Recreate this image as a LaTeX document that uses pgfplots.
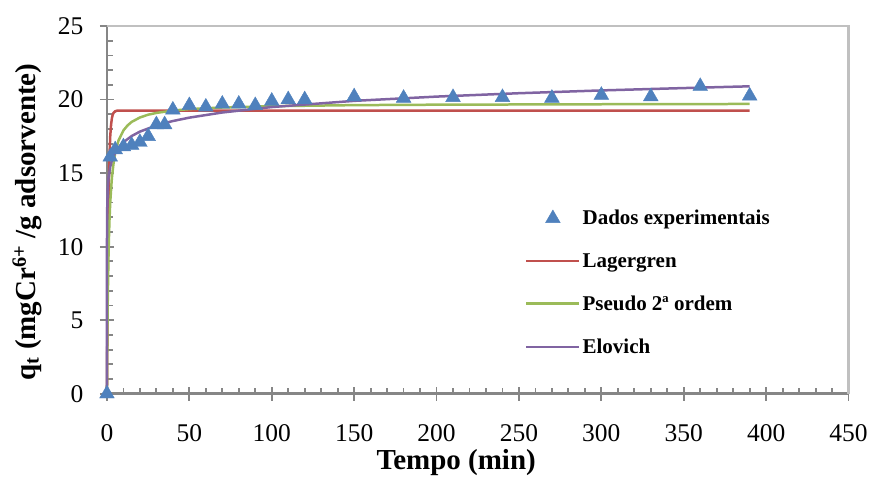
\documentclass[border=0pt]{standalone}
\usepackage{pgfplots}
\pgfplotsset{compat=1.18}
\usepackage{fontspec}
\setmainfont{Liberation Serif}
\definecolor{cblue}{HTML}{4F81BD}
\definecolor{cred}{HTML}{C0504D}
\definecolor{cgreen}{HTML}{9BBB59}
\definecolor{cpurple}{HTML}{8064A2}
\definecolor{axgray}{HTML}{868686}
\definecolor{boxgray}{HTML}{C0C0C0}
\begin{document}
\begin{tikzpicture}
\begin{axis}[
  at={(0pt,0pt)}, anchor=south west,
  scale only axis, width=742pt, height=368pt,
  xmin=0, xmax=450, ymin=0, ymax=25,
  set layers,
  clip=false,
  axis x line*=bottom, axis y line*=left,
  axis line style={draw=axgray, line width=2.6pt},
  xtick={0,50,...,450}, ytick={0,5,...,25},
  minor x tick num=4, minor y tick num=4,
  tick align=inside,
  major tick length=0pt, minor tick length=6pt,
  tick style={draw=axgray, line width=1.8pt},
  extra x ticks={0,50,...,450}, extra x tick labels={},
  extra y ticks={0,5,...,25}, extra y tick labels={},
  extra x tick style={major tick length=14pt, tick align=center},
  extra y tick style={major tick length=14pt, tick align=center},
  /pgf/number format/assume math mode=true,
  tick label style={font=\fontsize{25.5}{30}\selectfont},
  xticklabel style={yshift=-27pt},
  yticklabel style={xshift=-20pt},
  xlabel={\textbf{Tempo (min)}},
  ylabel={\textbf{q\textsubscript{t} (mgCr\textsuperscript{6+} /g adsorvente)}},
  label style={font=\fontsize{29}{33}\selectfont},
  xlabel style={at={(rel axis cs:0.471,0)}, anchor=north, yshift=-52pt},
  ylabel style={at={(rel axis cs:-0.0836,0.467)}, anchor=south},
  legend style={draw=none, fill=none, at={(rel axis cs:0.5596,0.51)}, anchor=north west,
    font=\bfseries\fontsize{21}{25}\selectfont, row sep=23pt,
    /tikz/every even column/.append style={column sep=0pt}},
  legend cell align=left,
  legend image code/.code={\draw[mark repeat=2,mark phase=2,#1] plot coordinates {(0pt,0pt) (26.5pt,0pt) (53pt,0pt)};},
]
\draw[boxgray, line width=2.2pt] (rel axis cs:0,1) -- (rel axis cs:1,1) -- (rel axis cs:1,0);
\addplot[only marks, mark=triangle*, mark size=8.5pt, color=cblue, mark options={fill=cblue, draw=cblue}] coordinates {
(0,0) (2,16.1) (5,16.6) (10,16.8) (15,16.9) (20,17.1) (25,17.5) (30,18.3) (35,18.3) (40,19.3)
(50,19.6) (60,19.5) (70,19.7) (80,19.7) (90,19.6) (100,19.9) (110,20.0) (120,20.0)
(150,20.2) (180,20.1) (210,20.15) (240,20.15) (270,20.1) (300,20.3) (330,20.2) (360,20.9) (390,20.25)
};
\addlegendentry{Dados experimentais}
\addplot[cred, line width=2.5pt] coordinates {
(0,0) (0.5,8.68) (1,13.45) (1.5,16.08) (2,17.5) (2.5,18.28) (3,18.73) (3.5,18.97) (4,19.09) (5,19.2) (6,19.24) (7,19.25) (390,19.25)
};
\addlegendentry{Lagergren}
\addplot[cgreen, line width=2.5pt] coordinates {
(0,0) (0.25,3.85) (0.5,6.44) (1,9.71) (1.5,11.69) (2,13.02) (3,14.69) (4,15.66) (5,16.37) (7,17.21) (10,17.9) (12.5,18.24) (15,18.48) (20,18.78) (25,18.97) (30,19.09) (40,19.25) (50,19.35) (70,19.46) (100,19.55) (150,19.62) (200,19.65) (300,19.68) (390,19.70)
};
\addlegendentry{Pseudo 2ª ordem}
\addplot[cpurple, line width=2.5pt] coordinates {
(0,0) (0.001,7.57) (0.01,9.95) (0.1,12.34) (0.5,14.0) (1,14.72) (2,15.43) (3,15.85) (5,16.39) (7,16.73) (10,17.1) (15,17.52) (20,17.82) (30,18.24) (40,18.54) (50,18.77) (70,19.12) (100,19.49) (150,19.91) (200,20.2) (250,20.43) (300,20.62) (350,20.78) (390,20.9)
};
\addlegendentry{Elovich}
\end{axis}
\path (-107pt,-81pt) rectangle (764pt,394pt);
\end{tikzpicture}
\end{document}
